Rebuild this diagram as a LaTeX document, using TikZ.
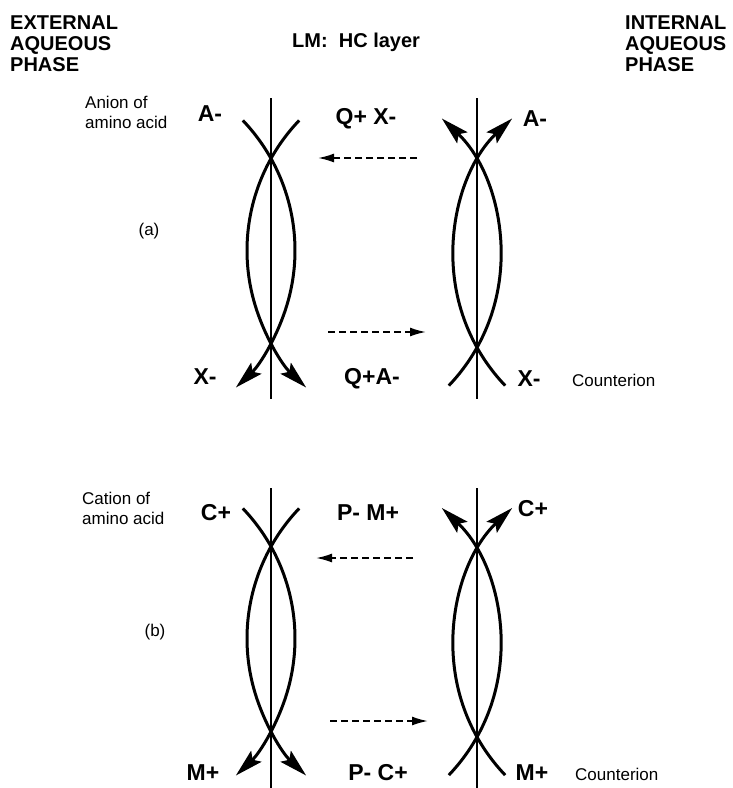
\documentclass[tikz,border=0pt]{standalone}
\usepackage{fontspec}
\setmainfont{Liberation Sans}
\usetikzlibrary{arrows.meta}

\begin{document}
\begin{tikzpicture}[x=1pt, y=-1pt]
    \tikzstyle{phase}=[align=left, inner sep=0pt,
                       font=\fontsize{20}{21}\selectfont\bfseries]
    \tikzstyle{ion}=[inner sep=0pt, font=\fontsize{23}{26}\selectfont\bfseries]
    \tikzstyle{note}=[align=left, inner sep=0pt, font=\fontsize{17}{20}\selectfont]
    \tikzstyle{carrier}=[line width=3pt]
    \tikzstyle{outtip}=[-{Stealth[length=28pt,width=15pt,inset=5pt]}]
    \tikzstyle{intip}=[{Stealth[length=28pt,width=15pt,inset=5pt]}-]
    \tikzstyle{wall}=[line width=1.2pt]
    \tikzstyle{flux}=[line width=1.8pt, dash pattern=on 7pt off 4pt,
                      -{Latex[length=16pt,width=9pt]}]
    \useasboundingbox (0,0) rectangle (733,788);
    % headings
    \node[phase, anchor=west] (ext) at (10,43.5) {EXTERNAL\\AQUEOUS\\PHASE};
    \node[phase, anchor=west] (int) at (625,43.5) {INTERNAL\\AQUEOUS\\PHASE};
    \node[phase, anchor=west] (lm) at (292,42.5) {LM:\ \ HC layer};
    % membrane walls
    \foreach \wx/\wt/\wb in {271/98/399, 477/98/399, 271/488/788, 477/488/788}
        \draw[wall] (\wx,\wt) -- (\wx,\wb);
    % crossing carriers, tips either outwards or inwards
    \foreach \mx/\my/\up/\dn/\tip/\name in {271/250.5/43.7/46.7/outtip/ma, 477/255.5/46.7/43.7/intip/na,
                                           271/638.5/43.7/46.7/outtip/mb, 477/645/46.7/43.7/intip/nb}
    {
        \coordinate (\name) at (\mx,\my);
        \draw[carrier, \tip] ({\mx-164.3+188.3*cos(\up)},{\my-188.3*sin(\up)})
            arc[start angle=-\up, end angle=\dn, radius=188.3];
        \draw[carrier, \tip] ({\mx+164.3-188.3*cos(\up)},{\my-188.3*sin(\up)})
            arc[start angle=180+\up, end angle=180-\dn, radius=188.3];
    }
    % dashed fluxes
    \foreach \fs/\fe/\fy/\name in {417/318/158/ra, 328/426/332/fa, 413/316/558/rb, 330/428/721/fb}
    {
        \coordinate (\name0) at (\fs,\fy);
        \coordinate (\name1) at (\fe,\fy);
        \draw[flux] (\name0) -- (\name1);
    }
    % panel (a)
    \node[note, anchor=west] (anion) at (85,112.5) {Anion of\\amino acid};
    \node[ion] (aA) at (210,114) {A-};
    \node[ion] (aQX) at (366,119) {Q+ X-};
    \node[ion] (aA2) at (535,119) {A-};
    \node[note] (la) at (149,231) {(a)};
    \node[ion] (aX) at (205,377) {X-};
    \node[ion] (aQA) at (372,379) {Q+A-};
    \node[ion] (aX2) at (529,379) {X-};
    \node[note, anchor=west] (ca) at (572,380) {Counterion};
    % panel (b)
    \node[note, anchor=west] (cation) at (82,508.5) {Cation of\\amino acid};
    \node[ion] (bC) at (216,513) {C+};
    \node[ion] (bPM) at (368,513) {P- M+};
    \node[ion] (bC2) at (533,509) {C+};
    \node[note] (lb) at (155,632) {(b)};
    \node[ion] (bM) at (203,773) {M+};
    \node[ion] (bPC) at (378,773) {P- C+};
    \node[ion] (bM2) at (532,773) {M+};
    \node[note, anchor=west] (cb) at (575,774) {Counterion};
\end{tikzpicture}
\end{document}
